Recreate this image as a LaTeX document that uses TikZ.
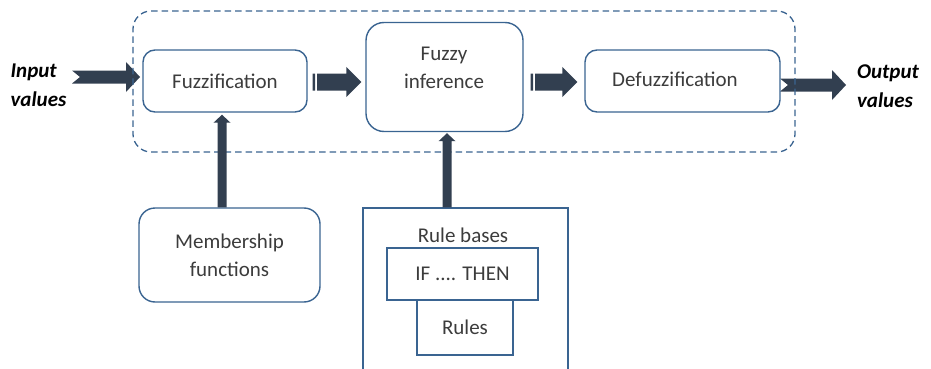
\documentclass[tikz,border=0pt]{standalone}
\usepackage{fontspec}
\setmainfont{Carlito}
\usetikzlibrary{calc}
\definecolor{boxline}{RGB}{58,100,145}
\definecolor{arrowfill}{RGB}{50,63,80}
\definecolor{txt}{RGB}{60,60,60}

% horizontal block arrow with a notched tail (tail, tip)
\newcommand\notcharrow[2]{%
  \fill[arrowfill] let \p1=(#1), \p2=(#2) in
   (\x1,\y1+6.5pt) -- (\x2-14pt,\y1+6.5pt) -- (\x2-14pt,\y1+15pt) -- (\x2,\y1)
   -- (\x2-14pt,\y1-15pt) -- (\x2-14pt,\y1-6.5pt) -- (\x1,\y1-6.5pt) -- (\x1+8pt,\y1) -- cycle;}
% horizontal block arrow with a striped tail (tail, tip)
\newcommand\stripearrow[2]{%
  \fill[arrowfill] let \p1=(#1), \p2=(#2) in
   (\x1,\y1-8.5pt) rectangle (\x1+2.5pt,\y1+8.5pt)
   (\x1+4.5pt,\y1+8.5pt) -- (\x2-15pt,\y1+8.5pt) -- (\x2-15pt,\y1+15pt) -- (\x2,\y1)
   -- (\x2-15pt,\y1-15pt) -- (\x2-15pt,\y1-8.5pt) -- (\x1+4.5pt,\y1-8.5pt) -- cycle;}
% vertical block arrow pointing up (tail, tip)
\newcommand\uparrowblk[2]{%
  \fill[arrowfill] let \p1=(#1), \p2=(#2) in
   (\x1-4.5pt,\y1) -- (\x1-4.5pt,\y2-8pt) -- (\x1-8.5pt,\y2-8pt) -- (\x1,\y2)
   -- (\x1+8.5pt,\y2-8pt) -- (\x1+4.5pt,\y2-8pt) -- (\x1+4.5pt,\y1) -- cycle;}

\begin{document}
\begin{tikzpicture}[x=1pt,y=-1pt,
  box/.style={draw=boxline,line width=1.4pt,rounded corners=12pt,fill=white,inner sep=0pt},
  sq/.style={draw=boxline,line width=1.3pt,fill=white,inner sep=0pt},
  lbl/.style={text=txt,font=\fontsize{21}{28}\selectfont,align=center},
  io/.style={font=\fontsize{21}{29}\selectfont\bfseries\itshape,align=left,text=black}]

\useasboundingbox (0,0) rectangle (931,369);

% input / output labels
\node[io] (invals) at (38.5,85) {Input\\values};
\node[io] (outvals) at (888,86) {Output\\values};

% stage positions
\coordinate (fuzzc) at (225,81);
\coordinate (defuzzc) at (682.5,81);

% outer arrows (under the dashed frame)
\coordinate (intail) at (72,77);
\coordinate (outtip) at (846,85);
\coordinate (intip) at ($(fuzzc)+(-85,-4)$);
\coordinate (outtail) at ($(defuzzc |- outtip)+(97.5,0)$);
\notcharrow{intail}{intip}
\notcharrow{outtail}{outtip}

% dashed system frame
\node[draw=boxline,dash pattern=on 6.5pt off 4pt,line width=1.3pt,rounded corners=18pt,
      minimum width=662pt,minimum height=141pt,inner sep=0pt] (frame) at (464,81.5) {};

% processing stages
\node[box,lbl,minimum width=164pt,minimum height=62pt] (fuzz) at (fuzzc) {Fuzzification};
\node[box,rounded corners=18pt,minimum width=157pt,minimum height=109pt] (fi) at (444.5,77) {};
\node[lbl] (fitext) at (444,68) {Fuzzy\\inference};
\node[box,minimum width=195pt,minimum height=62pt] (defuzz) at (defuzzc) {};
\node[lbl] (defuzztext) at (675,79) {Defuzzification};

% knowledge sources
\node[box,lbl,rounded corners=16pt,minimum width=181pt,minimum height=94pt] (member) at (229.5,255) {Membership\\functions};
\node[sq,line width=1.2pt,minimum width=205pt,minimum height=166pt] (rulebase) at (465.5,291) {};
\node[lbl] (rbtext) at (463,235) {Rule bases};
\node[sq,lbl,minimum width=96pt,minimum height=55pt] (rules) at (465,327.5) {Rules};
\node[sq,lbl,minimum width=151pt,minimum height=52pt] (ifthen) at (462.5,274) {IF .... THEN};

% flow between stages
\coordinate (m1tail) at ($(fuzz.east)+(5,1)$);
\coordinate (m1tip) at ($(fi.west |- m1tail)+(-4,0)$);
\stripearrow{m1tail}{m1tip}
\coordinate (m2tail) at ($(fi.east |- defuzz.west)+(7,1)$);
\coordinate (m2tip) at ($(defuzz.west |- m2tail)+(-7,0)$);
\stripearrow{m2tail}{m2tip}

% feeds from the knowledge sources
\coordinate (mtail) at ($(member.north)+(-7.5,0)$);
\coordinate (mtip) at ($(mtail |- fuzz.south)+(0,2)$);
\uparrowblk{mtail}{mtip}
\coordinate (rtail) at ($(rulebase.north)+(-18.5,0)$);
\coordinate (rtip) at ($(rtail |- fi.south)+(0,1)$);
\uparrowblk{rtail}{rtip}
\end{tikzpicture}
\end{document}
